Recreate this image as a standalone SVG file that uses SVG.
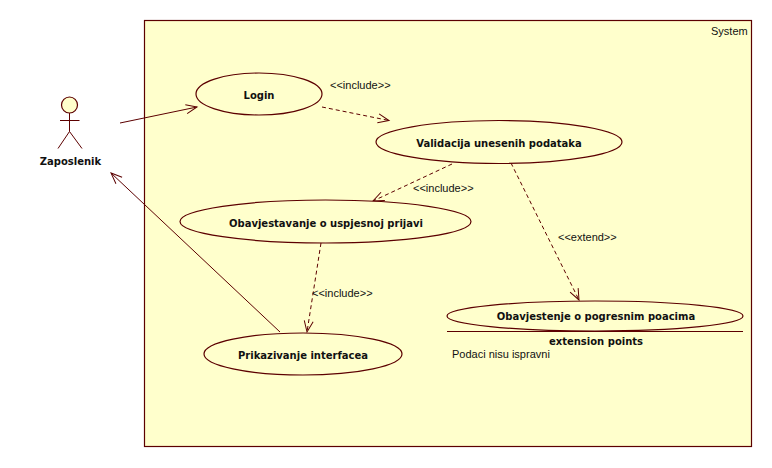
<svg xmlns="http://www.w3.org/2000/svg" width="772" height="468" viewBox="0 0 772 468">
  <style>
    text { font-family: "Liberation Sans", "DejaVu Sans", sans-serif; fill: #111; font-size: 11px; }
    .b { font-family: "DejaVu Sans", "Liberation Sans", sans-serif; font-size: 10px; font-weight: bold; text-anchor: middle; }
    .s { fill: none; stroke: #5c0000; stroke-width: 1; }
    .f { fill: #ffffcc; stroke: #5c0000; stroke-width: 1.2; }
    .d { stroke-dasharray: 4 3; }
  </style>
  <defs>
    <marker id="open" markerUnits="userSpaceOnUse" markerWidth="14" markerHeight="12" refX="12" refY="6" orient="auto">
      <path d="M1,1.5 L12,6 L1,10.5" fill="none" stroke="#5c0000" stroke-width="1"/>
    </marker>
  </defs>
  <rect width="772" height="468" fill="#fff"/>
  <g id="system">
    <rect x="144.5" y="20.5" width="607" height="426" fill="#ffffcc" stroke="#5c0000" stroke-width="1.2"/>
    <text x="711" y="35">System</text>
  </g>
  <g id="connectors">
    <line class="s" x1="120" y1="123" x2="197" y2="107" marker-end="url(#open)"/>
    <line class="s d" x1="322" y1="107" x2="389" y2="120.5" marker-end="url(#open)"/>
    <line class="s d" x1="452" y1="164" x2="373" y2="201" marker-end="url(#open)"/>
    <line class="s d" x1="511" y1="163" x2="579" y2="300" marker-end="url(#open)"/>
    <line class="s d" x1="321" y1="243" x2="307" y2="332" marker-end="url(#open)"/>
    <line class="s" x1="280" y1="332" x2="111" y2="173" marker-end="url(#open)"/>
    <text x="330" y="89">&lt;&lt;include&gt;&gt;</text>
    <text x="413" y="192">&lt;&lt;include&gt;&gt;</text>
    <text x="558" y="241">&lt;&lt;extend&gt;&gt;</text>
    <text x="312" y="297">&lt;&lt;include&gt;&gt;</text>
  </g>
  <g id="actor">
    <circle class="f" cx="69.5" cy="105" r="8"/>
    <path class="s" d="M69.5,113 V131.5 M60,120.5 H79.5 M58,148.5 L69.5,131.5 L82,148.5"/>
    <text class="b" x="70.5" y="165">Zaposlenik</text>
  </g>
  <g id="login">
    <ellipse class="f" cx="259" cy="94" rx="63" ry="21"/>
    <text class="b" x="259" y="99">Login</text>
  </g>
  <g id="validacija">
    <ellipse class="f" cx="499" cy="142" rx="123" ry="21.5"/>
    <text class="b" x="499" y="147">Validacija unesenih podataka</text>
  </g>
  <g id="obavjestavanje">
    <ellipse class="f" cx="325.5" cy="221.5" rx="145.5" ry="21.5"/>
    <text class="b" x="326" y="227">Obavjestavanje o uspjesnoj prijavi</text>
  </g>
  <g id="prikazivanje">
    <ellipse class="f" cx="303" cy="354" rx="99" ry="21"/>
    <text class="b" x="303" y="359">Prikazivanje interfacea</text>
  </g>
  <g id="obavjestenje">
    <ellipse class="f" cx="595" cy="316" rx="148" ry="15"/>
    <text class="b" x="596" y="320">Obavjestenje o pogresnim poacima</text>
    <line class="s" x1="447" y1="331.5" x2="743" y2="331.5"/>
    <text class="b" x="596" y="345">extension points</text>
    <text x="452" y="358">Podaci nisu ispravni</text>
  </g>
</svg>
